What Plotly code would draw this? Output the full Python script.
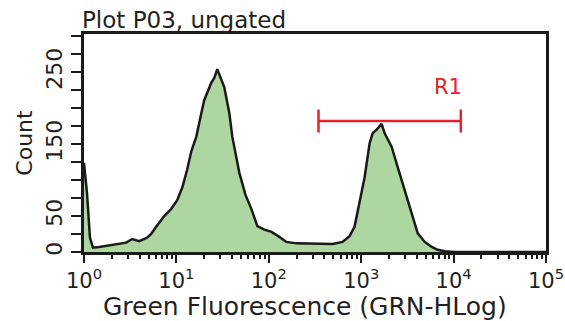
import math
import plotly.graph_objects as go

# Histogram of green fluorescence (channel value, event count)
fluorescence = [1.0, 1.08, 1.16, 1.25, 1.46, 1.87, 2.40, 2.86, 3.32, 3.95, 4.82, 5.33,
                6.04, 7.38, 8.79, 10.2, 11.6, 13.1, 14.5, 16.4, 18.6, 20.0, 23.8, 25.7,
                27.7, 30.6, 33.0, 37.4, 40.3, 48.0, 55.7, 64.7, 75.2, 89.5, 107, 130,
                155, 199, 297, 490, 628, 748, 847, 961, 1089, 1233, 1330, 1469, 1663,
                1795, 2138, 2483, 2958, 3524, 4093, 4875, 5807, 6745, 8035, 10300, 100000]
counts = [124, 80, 20, 6, 7, 9, 12, 13, 18, 15, 20, 25,
          35, 50, 60, 72, 90, 115, 140, 160, 193, 211, 235, 242,
          254, 240, 229, 193, 160, 110, 80, 60, 36, 31, 28, 21,
          14, 12, 12, 11, 14, 22, 35, 68, 104, 151, 165, 170, 178,
          165, 146, 118, 86, 54, 26, 14, 7, 3, 1, 0, 0]

# Region R1 gate
gate_name = "R1"
gate_lo, gate_hi = 345, 11970
gate_level = 182
gate_cap = 16

x_tickvals = [1, 10, 100, 1000, 10000, 100000]
x_ticktext = ["10<sup>0</sup>", "10<sup>1</sup>", "10<sup>2</sup>",
              "10<sup>3</sup>", "10<sup>4</sup>", "10<sup>5</sup>"]
y_tickvals = [0, 50, 150, 250]
y_ticktext = ["0", "50", "150", "250"]

FONT = "DejaVu Sans"
TXT = "#231f20"
INK = "#1a1a1a"
RED = "#e8202a"

fig = go.Figure()
fig.add_trace(go.Scatter(
    x=fluorescence, y=counts, mode="lines",
    line=dict(color=INK, width=2.5),
    fill="tozeroy", fillcolor="#aed6a0", hoverinfo="skip", showlegend=False))

# gate bar and end caps
fig.add_trace(go.Scatter(
    x=[gate_lo, gate_hi], y=[gate_level, gate_level], mode="lines",
    line=dict(color=RED, width=2.5), showlegend=False, hoverinfo="skip"))
for gx in (gate_lo, gate_hi):
    fig.add_trace(go.Scatter(
        x=[gx, gx], y=[gate_level - gate_cap, gate_level + gate_cap], mode="lines",
        line=dict(color=RED, width=2.5), showlegend=False, hoverinfo="skip"))

# annotations on a log axis take the exponent as their x position
fig.add_annotation(x=math.log10(gate_hi), y=gate_level, text=gate_name, showarrow=False,
                   xanchor="right", yanchor="bottom", yshift=20, xshift=3,
                   font=dict(family=FONT, size=21, color=RED))

fig.add_annotation(xref="paper", yref="paper", x=0, y=1, text="Plot P03, ungated",
                   showarrow=False, xanchor="left", yanchor="bottom", xshift=-4, yshift=-1,
                   font=dict(family=FONT, size=23, color=TXT))

# x-axis title placed just under the tick labels
fig.add_annotation(xref="paper", yref="paper", x=0.478, y=0, yanchor="top",
                   yshift=-38, showarrow=False, text="Green Fluorescence (GRN-HLog)",
                   font=dict(family=FONT, size=25, color=TXT))

fig.update_layout(
    width=565, height=321,
    margin=dict(l=84, r=19, t=34, b=69, autoexpand=False),
    paper_bgcolor="white", plot_bgcolor="white",
    font=dict(family=FONT, color=TXT),
    xaxis=dict(
        type="log", range=[0, 5], automargin=False,
        tickmode="array", tickvals=x_tickvals, ticktext=x_ticktext,
        ticklabeloverflow="allow",
        ticks="outside", ticklen=8, tickwidth=2, tickcolor=INK,
        minor=dict(dtick="D1", ticks="outside", ticklen=4, tickwidth=2,
                   tickcolor=INK, showgrid=False),
        showline=True, linewidth=2.5, linecolor=INK, mirror=True,
        showgrid=False, zeroline=False,
        tickfont=dict(family=FONT, size=21, color=TXT),
    ),
    yaxis=dict(
        range=[0, 303], automargin=False,
        tickmode="array", tickvals=y_tickvals, ticktext=y_ticktext,
        tickangle=-90,
        ticks="outside", ticklen=10, tickwidth=2, tickcolor=INK,
        minor=dict(tickmode="linear", tick0=0, dtick=25, ticks="outside",
                   ticklen=10, tickwidth=2, tickcolor=INK, showgrid=False),
        showline=True, linewidth=2.5, linecolor=INK, mirror=True,
        showgrid=False, zeroline=False,
        tickfont=dict(family=FONT, size=22, color=TXT),
        title=dict(text="Count", font=dict(family=FONT, size=22, color=TXT), standoff=4),
    ),
)

fig.write_html("out.html")
